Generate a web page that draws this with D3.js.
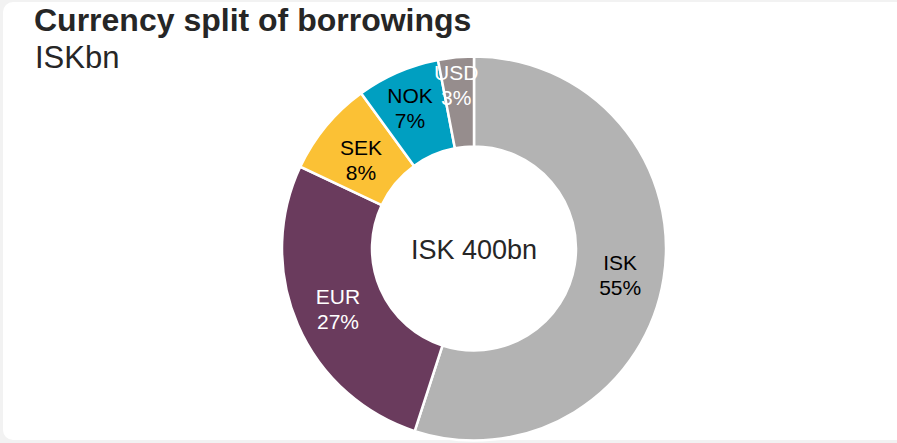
<!DOCTYPE html>
<html><head><meta charset="utf-8">
<script src="https://cdn.jsdelivr.net/npm/d3@7"></script>
<style>
html,body{margin:0;padding:0;background:#f2f2f2;}
svg{display:block;font-family:"Liberation Sans",Arial,sans-serif;}
</style></head>
<body><svg id="c" width="897" height="443"></svg>
<script>
const categories = ["ISK","EUR","SEK","NOK","USD"];
const shares = [55,27,8,7,3];
const colors = ["#b3b3b3","#6a3b5d","#fbc135","#009fc1","#968d8d"];
const labelColors = ["#000","#fff","#000","#000","#fff"];
const title = "Currency split of borrowings";
const subtitle = "ISKbn";
const centerLabel = "ISK 400bn";

const svg = d3.select("#c");
svg.append("rect").attr("x",3).attr("y",2).attr("width",910).attr("height",438).attr("rx",10).attr("fill","#fff");
svg.append("text").attr("x",34).attr("y",31).attr("font-size",32).attr("font-weight","bold").attr("fill","#262626").text(title);
svg.append("text").attr("x",35).attr("y",68).attr("font-size",31).attr("fill","#262626").text(subtitle);

const cx=474, cy=248.5, rO=192, rI=102;
// label placement (styling): larger radius for thin slices
const labelR = {ISK:150, EUR:146, SEK:144, NOK:156, USD:167};
const g = svg.append("g").attr("transform",`translate(${cx},${cy})`);
const data = categories.map((c,i)=>({cat:c,v:shares[i],col:colors[i],lc:labelColors[i]}));
const pie = d3.pie().value(d=>d.v).sort(null);
const arc = d3.arc().innerRadius(rI).outerRadius(rO);
const arcs = pie(data);
g.selectAll("path").data(arcs).join("path").attr("d",arc).attr("fill",d=>d.data.col).attr("stroke","#fff").attr("stroke-width",2.5);
const lab = g.selectAll("text.l").data(arcs).join("text").attr("class","l")
  .attr("transform",d=>{const r=labelR[d.data.cat];const c=d3.arc().innerRadius(r).outerRadius(r).centroid(d);return `translate(${c[0]-2},${c[1]})`;})
  .attr("text-anchor","middle")
  .attr("font-size",21).attr("fill",d=>d.data.lc);
lab.append("tspan").attr("x",0).attr("y",-2).text(d=>d.data.cat);
lab.append("tspan").attr("x",0).attr("y",23).text(d=>d.data.v+"%");
g.append("text").attr("text-anchor","middle").attr("y",10).attr("font-size",27).attr("fill","#262626").text(centerLabel);
</script></body></html>
